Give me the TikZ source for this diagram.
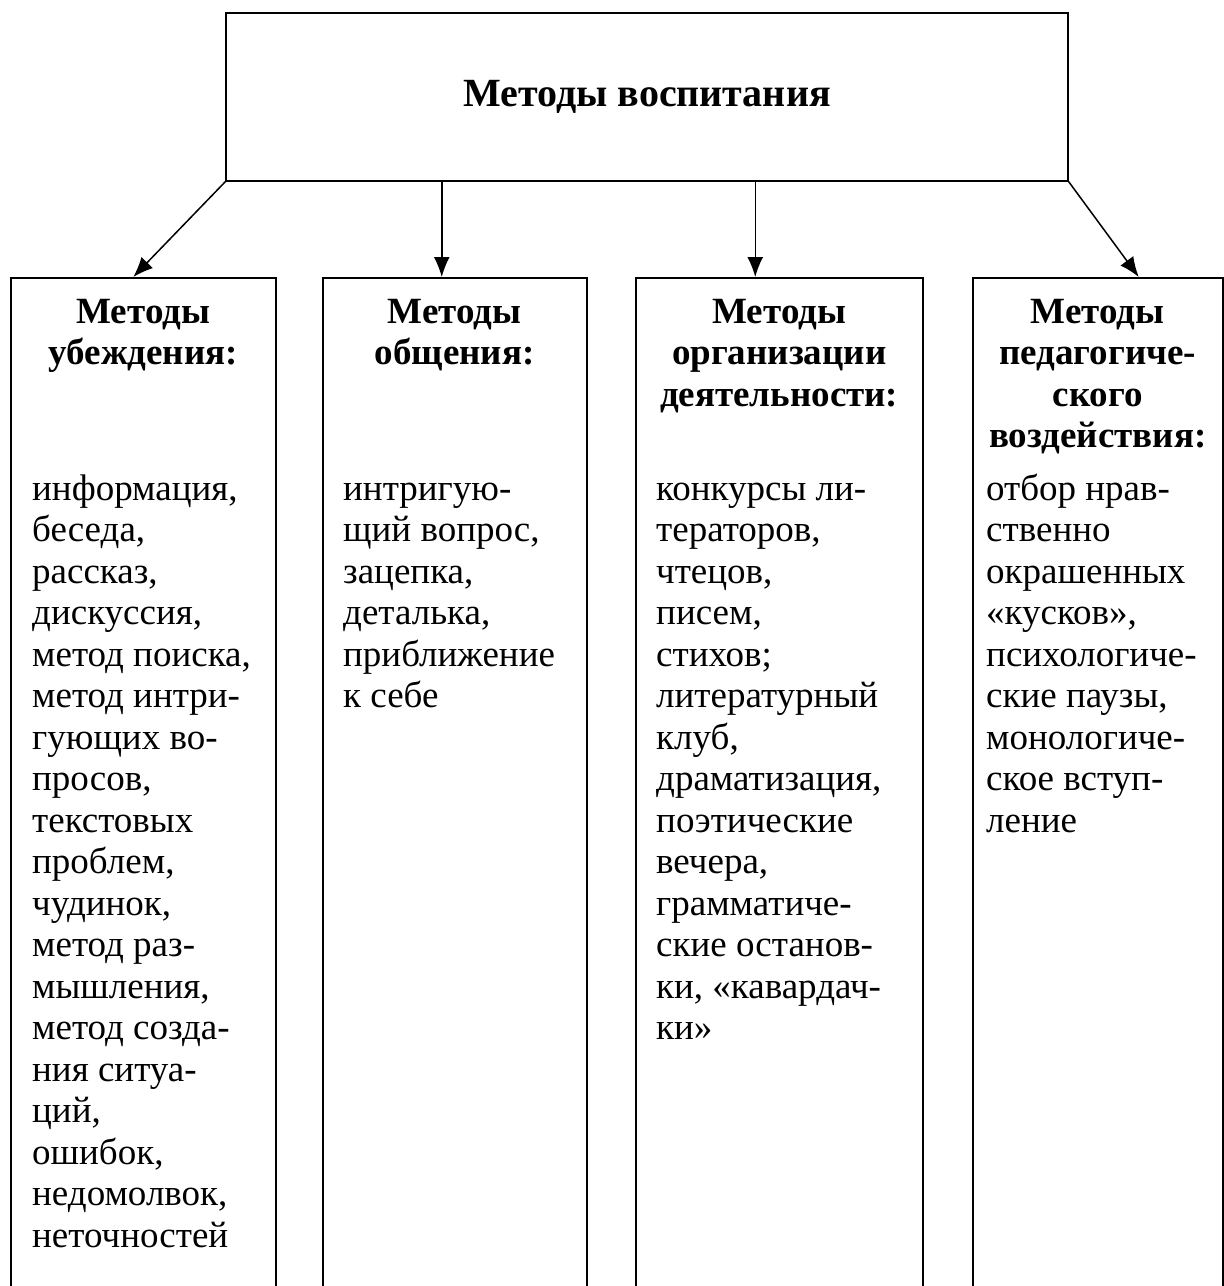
\documentclass[tikz,border=0pt]{standalone}
\usepackage{fontspec}
\setmainfont{Liberation Serif}
\usetikzlibrary{arrows.meta,positioning}

\tikzset{
  box/.style={draw, line width=1.5pt, inner sep=0pt},
  col/.style={box, anchor=north west, minimum width=#1, minimum height=1100pt},
  head/.style={anchor=north, align=center, inner sep=0pt, font=\bfseries\fontsize{37}{41.5}\selectfont},
  body/.style={anchor=north west, align=left, inner sep=0pt, font=\fontsize{37}{41.5}\selectfont},
  arr/.style={-{Latex[length=20pt,width=16pt]}, line width=1.5pt}
}

\begin{document}
\begin{tikzpicture}[x=1pt,y=-1pt]
\useasboundingbox (0,0) rectangle (1224,1286);

\node [box, minimum width=842pt, minimum height=168pt, font=\bfseries\fontsize{40}{44}\selectfont] (top) at (647,97) {Методы воспитания};

\node [col=265pt] (col1) at (10,277) {};
\node [col=264pt] (col2) at (322,277) {};
\node [col=287pt] (col3) at (635,277) {};
\node [col=250pt] (col4) at (972,277) {};

\node [head, below=17pt of col1.north] (h1) {\strut Методы\\убеждения:};
\node [head, below=17pt of col2.north] (h2) {\strut Методы\\общения:};
\node [head, below=17pt of col3.north] (h3) {\strut Методы\\организации\\деятельности:};
\node [head, below=17pt of col4.north] (h4) {\strut Методы\\педагогиче-\\ского\\воздействия:};

\node [body, below right=194pt and 22pt of col1.north west] (b1) {\strut информация,\\беседа,\\рассказ,\\дискуссия,\\метод поиска,\\метод интри-\\гующих во-\\просов,\\текстовых\\проблем,\\чудинок,\\метод раз-\\мышления,\\метод созда-\\ния ситуа-\\ций,\\ошибок,\\недомолвок,\\неточностей};
\node [body, below right=194pt and 21pt of col2.north west] (b2) {\strut интригую-\\щий вопрос,\\зацепка,\\деталька,\\приближение\\к себе};
\node [body, below right=194pt and 21pt of col3.north west] (b3) {\strut конкурсы ли-\\тераторов,\\чтецов,\\писем,\\стихов;\\литературный\\клуб,\\драматизация,\\поэтические\\вечера,\\грамматиче-\\ские останов-\\ки, «кавардач-\\ки»};
\node [body, below right=194pt and 14pt of col4.north west] (b4) {\strut отбор нрав-\\ственно\\окрашенных\\«кусков»,\\психологиче-\\ские паузы,\\монологиче-\\ское вступ-\\ление};

\draw [arr] (top.south west) -- ([xshift=-10pt]col1.north);
\draw [arr] ([xshift=-13pt]col2.north |- top.south) -- ([xshift=-13pt]col2.north);
\draw [arr] ([xshift=-24pt]col3.north |- top.south) -- ([xshift=-24pt]col3.north);
\draw [arr] (top.south east) -- ([xshift=41pt]col4.north);
\end{tikzpicture}
\end{document}
